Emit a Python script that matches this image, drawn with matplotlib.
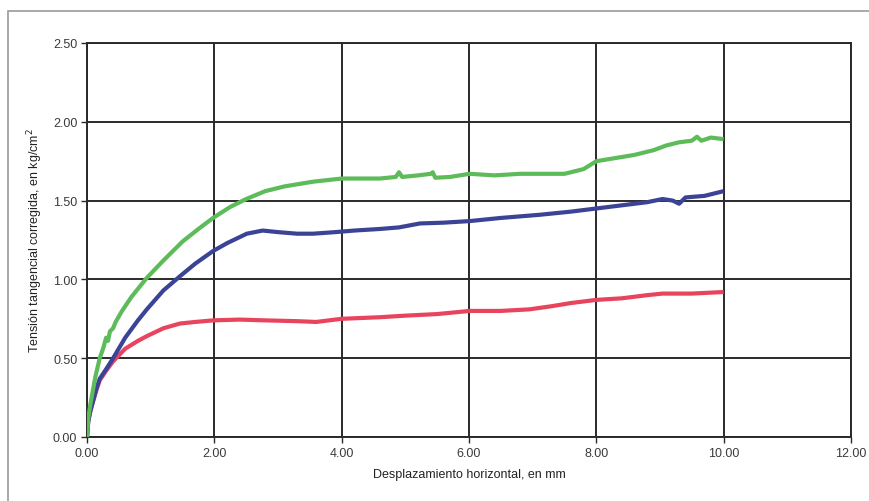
import matplotlib.pyplot as plt
from matplotlib.patches import Rectangle

plt.rcParams['font.family'] = ['Liberation Sans', 'DejaVu Sans']

# Desplazamiento horizontal (mm) and tension (kg/cm2)
green_x = [0.0, 0.02, 0.05, 0.09, 0.13, 0.2, 0.26, 0.3, 0.33, 0.36, 0.41, 0.45, 0.55, 0.7,
           0.94, 1.2, 1.5, 1.75, 1.98, 2.25, 2.5, 2.8, 3.1, 3.55, 4.0, 4.3, 4.6, 4.85, 4.9,
           4.95, 5.2, 5.4, 5.43, 5.47, 5.7, 6.01, 6.4, 6.8, 7.16, 7.5, 7.8, 8.0, 8.3, 8.6,
           8.9, 9.1, 9.3, 9.5, 9.58, 9.65, 9.8, 10.0]
green_y = [0.0, 0.12, 0.2, 0.29, 0.38, 0.5, 0.57, 0.63, 0.61, 0.67, 0.69, 0.73, 0.8, 0.89,
           1.01, 1.12, 1.24, 1.32, 1.39, 1.46, 1.51, 1.56, 1.59, 1.62, 1.64, 1.64, 1.64, 1.65, 1.68,
           1.65, 1.66, 1.67, 1.68, 1.645, 1.65, 1.67, 1.66, 1.67, 1.67, 1.67, 1.70, 1.75, 1.77, 1.79,
           1.82, 1.85, 1.87, 1.88, 1.905, 1.88, 1.90, 1.89]

blue_x = [0.0, 0.02, 0.05, 0.09, 0.15, 0.2, 0.3, 0.41, 0.6, 0.8, 0.94, 1.2, 1.46, 1.7, 1.98,
          2.2, 2.51, 2.76, 3.0, 3.3, 3.55, 3.9, 4.2, 4.6, 4.9, 5.23, 5.6, 6.01, 6.5, 7.11,
          7.6, 8.0, 8.4, 8.8, 9.04, 9.2, 9.3, 9.4, 9.7, 10.0]
blue_y = [0.0, 0.1, 0.16, 0.22, 0.31, 0.37, 0.43, 0.5, 0.63, 0.74, 0.81, 0.93, 1.02, 1.1, 1.18,
          1.23, 1.29, 1.31, 1.3, 1.29, 1.29, 1.3, 1.31, 1.32, 1.33, 1.355, 1.36, 1.37, 1.39, 1.41,
          1.43, 1.45, 1.47, 1.49, 1.51, 1.50, 1.48, 1.52, 1.53, 1.56]

red_x = [0.0, 0.02, 0.05, 0.09, 0.15, 0.2, 0.3, 0.41, 0.6, 0.8, 0.94, 1.2, 1.46, 1.7, 1.98,
         2.4, 2.8, 3.3, 3.6, 4.0, 4.6, 5.0, 5.5, 6.01, 6.5, 6.95, 7.3, 7.6, 8.0, 8.4, 8.8,
         9.04, 9.5, 10.0]
red_y = [0.0, 0.1, 0.16, 0.22, 0.3, 0.36, 0.42, 0.48, 0.56, 0.61, 0.64, 0.69, 0.72, 0.73, 0.74,
         0.745, 0.74, 0.735, 0.73, 0.75, 0.76, 0.77, 0.78, 0.80, 0.80, 0.81, 0.83, 0.85, 0.87, 0.88, 0.90,
         0.91, 0.91, 0.92]

x_ticks = [0, 2, 4, 6, 8, 10, 12]
y_ticks = [0.0, 0.5, 1.0, 1.5, 2.0, 2.5]

fig = plt.figure(figsize=(8.69, 5.02), dpi=100)
ax = fig.add_axes([87 / 869, 1 - 438 / 502, (851 - 87) / 869, (438 - 44) / 502])

# outer frame of the scanned figure
fig.patches.append(Rectangle((8 / 869, -0.1), 1.2, 1 - 12 / 502 + 0.1,
                             transform=fig.transFigure, fill=False,
                             edgecolor='#9a9a9a', linewidth=1.2))

ax.plot(red_x, red_y, color='#e8445e', lw=3, solid_capstyle='butt', zorder=3)
ax.plot(blue_x, blue_y, color='#3b4397', lw=3, solid_capstyle='butt', zorder=3)
ax.plot(green_x, green_y, color='#5dbb5a', lw=3, solid_capstyle='butt', zorder=4)

ax.set_xlim(0, 12)
ax.set_ylim(0, 2.5)
ax.set_xticks(x_ticks)
ax.set_yticks(y_ticks)
ax.set_xticklabels([f'{v:.2f}' for v in x_ticks])
ax.set_yticklabels([f'{v:.2f}' for v in y_ticks])
ax.grid(True, color='#2a2a2a', linewidth=1.4)
ax.set_axisbelow(True)
for sp in ax.spines.values():
    sp.set_color('#2a2a2a')
    sp.set_linewidth(1.4)
ax.tick_params(direction='out', length=4, width=1.0, color='#2a2a2a',
               labelsize=9, labelcolor='#3a3a3a', pad=3)

ax.set_xlabel('Desplazamiento horizontal, en mm', fontsize=9, color='#222222', labelpad=7)
ax.set_ylabel('Tensión tangencial corregida, en kg/cm$^2$', fontsize=9, color='#222222', labelpad=6)

fig.savefig('out.png', dpi=100)
